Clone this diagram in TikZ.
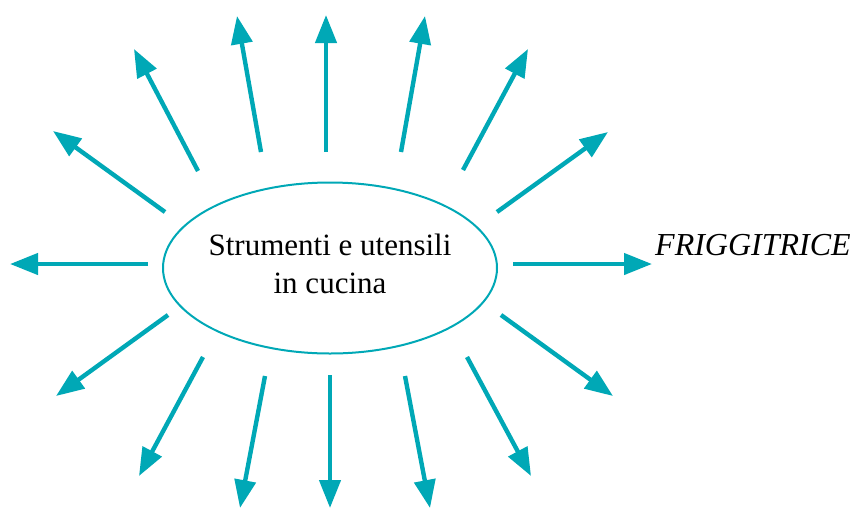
\documentclass[tikz,border=0pt]{standalone}
\usepackage{fontspec}
\setmainfont{Liberation Serif}
\usetikzlibrary{arrows.meta,shapes.geometric}
\definecolor{teal1}{RGB}{0,168,182}
\tikzset{
  ray/.style={draw=teal1, line width=4.4pt, -{Triangle[length=28pt,width=21pt]}},
  hub/.style={draw=teal1, line width=2pt, ellipse, minimum width=334pt, minimum height=171pt, inner sep=0pt},
  lbl/.style={font=\fontsize{31}{38}\selectfont, align=center, inner sep=0pt},
}
\begin{document}
\begin{tikzpicture}[x=1pt,y=-1pt]
\useasboundingbox (0,0) rectangle (856,509);
\node[hub] (c) at (330,268) {};
\node[lbl, anchor=base] (ct) at (330,293) {Strumenti e utensili\\in cucina};
\node[font=\fontsize{32}{38}\selectfont\itshape, anchor=base west, inner sep=0pt] (fr) at (655,255) {FRIGGITRICE};
\foreach \i/\sx/\sy/\ex/\ey in {
  1/148/264/10/264,
  2/165/212/53/131,
  3/198/171/134/49,
  4/261/152/237/16,
  5/326/152/326/15,
  6/401/152/425/16,
  7/463/170/528/49,
  8/497/212/608/132,
  9/513/264/652/264,
  10/501/315/613/396,
  11/467/357/531/476,
  12/405/376/430/508,
  13/330/375/330/508,
  14/265/376/240/508,
  15/203/357/139/476,
  16/168/315/56/396}{
  \coordinate (s\i) at (\sx,\sy);
  \coordinate (e\i) at (\ex,\ey);
  \draw[ray] (s\i) -- (e\i);
}
\end{tikzpicture}
\end{document}
